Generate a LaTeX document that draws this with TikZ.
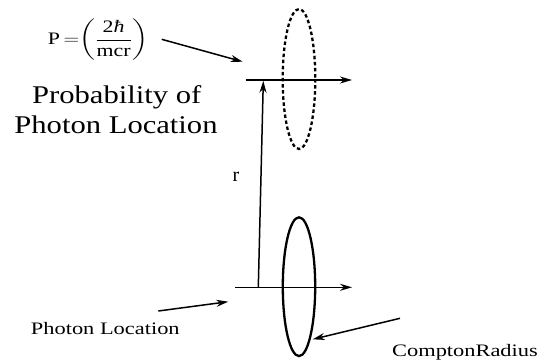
\documentclass[tikz,border=0pt]{standalone}
\usepackage{fontspec}
\usepackage{graphicx}
\usepackage{amsmath}
\setmainfont{Liberation Serif}
\newfontfamily\bigfont[FakeStretch=1.2]{Liberation Serif}
\newfontfamily\smfont[FakeStretch=1.28]{Liberation Serif}
\usetikzlibrary{arrows.meta}
\tikzset{
  conn/.style={line width=1.5pt, -{Stealth[length=12pt,width=7pt]}},
  bigtxt/.style={anchor=base, inner sep=0pt, font=\bigfont\fontsize{25.5}{30}\selectfont},
  smtxt/.style={anchor=base, inner sep=0pt, font=\smfont\fontsize{17.5}{21}\selectfont},
  ring/.style={line width=2.3pt},
  dotring/.style={line width=2.3pt, dash pattern=on 3.5pt off 2.6pt}
}
\begin{document}
\begin{tikzpicture}[x=1pt,y=-1pt]
\useasboundingbox (0,0) rectangle (539,362);
% ellipses
\draw[dotring] (299,79) ellipse [x radius=16.3, y radius=70];
\draw[ring] (299,286.7) ellipse [x radius=16.2, y radius=69.4];
% coordinates
\coordinate (uL) at (245.7,80);
\coordinate (uR) at (352,80);
\coordinate (lL) at (235,287.3);
\coordinate (lR) at (352,287.3);
\coordinate (rB) at (258.3,287.3);
\coordinate (rT) at (263.3,80.8);
\coordinate (pS) at (161.7,39.3);
\coordinate (pE) at (242.7,61.7);
\coordinate (plS) at (158.3,311);
\coordinate (plE) at (228.3,301.7);
\coordinate (cS) at (400,318.3);
\coordinate (cE) at (312.7,339.3);
% arrows
\draw[conn] (uL) -- (uR);
\draw[conn] (lL) -- (lR);
\draw[conn] (rB) -- (rT);
\draw[conn] (pS) -- (pE);
\draw[conn] (plS) -- (plE);
\draw[conn] (cS) -- (cE);
% texts
\node[inner sep=0pt, font=\fontsize{17.5}{21}\selectfont] (formula) at (98,40)
  {\scalebox{1.25}[1]{$\mbox{P}\,{=}\!\left(\dfrac{\mbox{2\textit{ħ}}}{\mbox{mcr}}\right)$}};
\node[bigtxt] (prob) at (116.7,103.3) {Probability of};
\node[bigtxt] (loc) at (116,133.3) {Photon Location};
\node[anchor=base, inner sep=0pt, font=\fontsize{20}{24}\selectfont] (r) at (236,181) {r};
\node[smtxt] (ploc) at (105.3,334) {Photon Location};
\node[smtxt] (compton) at (465,356.7) {ComptonRadius};
\end{tikzpicture}
\end{document}
